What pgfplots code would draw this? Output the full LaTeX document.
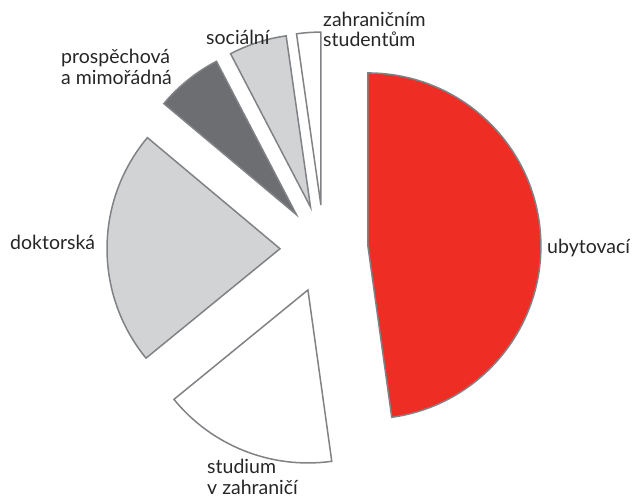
\documentclass[border=0pt]{standalone}
\usepackage{pgfplots}
\pgfplotsset{compat=1.18}
\usepackage{fontspec}
\setmainfont{Lato}
\definecolor{ured}{HTML}{EE2E24}
\definecolor{dgray}{HTML}{6D6E71}
\definecolor{lgray}{HTML}{D1D3D4}
\definecolor{edge}{HTML}{808285}
% shares of the pie (percent), in drawing order, counter-clockwise from 12 o'clock
\def\vZahr{2.25}
\def\vSoc{5.4}
\def\vProsp{6.25}
\def\vDokt{22.0}
\def\vStud{16.3}
\def\vUby{47.8}
\def\cx{324}\def\cy{251}\def\R{173}\def\E{44}
\gdef\cum{90}
\newcommand\wedgeslice[2]{%
  \pgfmathsetmacro\sa{\cum}%
  \pgfmathsetmacro\ea{\cum+3.6*#1}%
  \pgfmathsetmacro\ma{\cum+1.8*#1}%
  \pgfmathsetmacro\apx{\cx+\E*cos(\ma)}%
  \pgfmathsetmacro\apy{\cy+\E*sin(\ma)}%
  \xdef\cum{\ea}%
  \edef\tmp{\noexpand\filldraw[#2,draw=edge,line width=1.5pt,line join=miter]
    (axis cs:\apx,\apy) -- ++(\sa:\R pt) arc[start angle=\sa,end angle=\ea,radius=\R pt] -- cycle;}%
  \tmp}
\begin{document}
\begin{tikzpicture}
\begin{axis}[name=ax, x=1pt, y=1pt, xmin=0, xmax=634, ymin=0, ymax=500,
  hide axis, clip=false, anchor=origin]
\wedgeslice{\vZahr}{fill=white}
\wedgeslice{\vSoc}{fill=lgray}
\wedgeslice{\vProsp}{fill=dgray}
\wedgeslice{\vDokt}{fill=lgray}
\wedgeslice{\vStud}{fill=white}
\wedgeslice{\vUby}{fill=ured}
\begin{scope}[every node/.style={inner sep=0pt, anchor=base west, font=\fontsize{19.5}{22}\selectfont, text=black!85}]
\node at (axis cs:61,436) {prospěchová};
\node at (axis cs:61,415) {a mimořádná};
\node at (axis cs:206,455) {sociální};
\node at (axis cs:323,473) {zahraničním};
\node at (axis cs:323,453) {studentům};
\node at (axis cs:10,250) {doktorská};
\node at (axis cs:547,246) {ubytovací};
\node at (axis cs:207,26) {studium};
\node at (axis cs:207,5) {v zahraničí};
\end{scope}
\end{axis}
\pgfresetboundingbox
\path (ax.south west) rectangle (ax.north east);
\end{tikzpicture}
\end{document}
